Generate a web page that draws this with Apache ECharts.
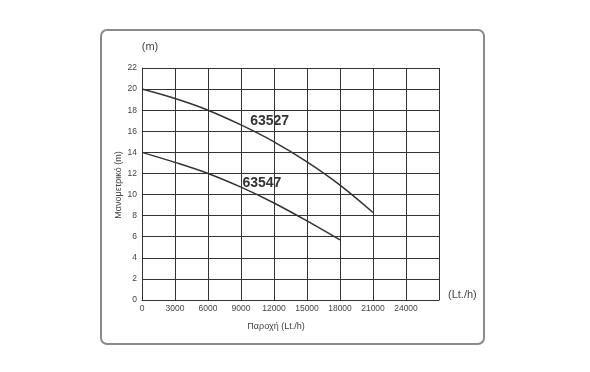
<!DOCTYPE html>
<html><head><meta charset="utf-8">
<script src="https://cdn.jsdelivr.net/npm/echarts@6/dist/echarts.min.js"></script>
<style>html,body{margin:0;padding:0;background:#fff}#c{width:590px;height:372px}</style>
</head><body><div id="c"></div>
<script>
const flowTicks = [0,3000,6000,9000,12000,15000,18000,21000,24000];
const headTicks = [0,2,4,6,8,10,12,14,16,18,20,22];
const flow63527 = [0,3000,6000,9000,12000,15000,18000,21000];
const head63527 = [20,19.1,18.0,16.6,15.0,13.1,10.9,8.3];
const flow63547 = [0,3000,6000,9000,12000,15000,18000];
const head63547 = [14,13.05,12.0,10.7,9.2,7.5,5.7];
const seriesNames = ['63527','63547'];
const labelPos = [[11600,17.0],[10900,11.1]];

const chart = echarts.init(document.getElementById('c'));
const font = 'Liberation Sans, Arial, sans-serif';
chart.setOption({
  animation:false,
  grid:{left:142,top:68,width:297,height:232,containLabel:false},
  xAxis:{type:'value',min:0,max:27000,interval:3000,
    name:'(Lt./h)',nameLocation:'end',nameGap:9,
    nameTextStyle:{color:'#444',fontSize:11,fontFamily:font,verticalAlign:'bottom',padding:[0,0,0,0]},
    axisLine:{show:true,lineStyle:{color:'#333',width:1}},
    axisTick:{show:false},
    splitLine:{show:true,lineStyle:{color:'#333',width:1}},
    axisLabel:{color:'#444',fontSize:8.5,fontFamily:font,margin:4,
      formatter:v=>flowTicks.includes(v)?String(v):''}},
  yAxis:{type:'value',min:0,max:22,interval:2,
    name:'(m)',nameLocation:'end',nameGap:16,
    nameTextStyle:{color:'#444',fontSize:11,fontFamily:font,align:'center',padding:[0,0,0,16]},
    axisLine:{show:true,lineStyle:{color:'#333',width:1}},
    axisTick:{show:false},
    splitLine:{show:true,lineStyle:{color:'#333',width:1}},
    axisLabel:{color:'#444',fontSize:8.5,fontFamily:font,margin:5,
      formatter:v=>headTicks.includes(v)?String(v):''}},
  graphic:[
    {type:'rect',shape:{x:101,y:30,width:383,height:314,r:6},
     style:{fill:'none',stroke:'#8a8a8a',lineWidth:2},z:-1},
    {type:'text',x:119,y:185,rotation:Math.PI/2,
     style:{text:'Μανομετρικό (m)',fill:'#444',font:'9px '+font,align:'center',verticalAlign:'middle'}},
    {type:'text',x:276,y:327,
     style:{text:'Παροχή (Lt./h)',fill:'#444',font:'9px '+font,align:'center',verticalAlign:'middle'}}
  ],
  series:[
    {name:seriesNames[0],type:'line',smooth:0.35,symbol:'none',
     data:flow63527.map((f,i)=>[f,head63527[i]]),
     lineStyle:{color:'#333',width:1.5},
     markPoint:{symbolSize:0,data:[{coord:labelPos[0],value:seriesNames[0]}],
       label:{show:true,formatter:seriesNames[0],color:'#333',fontSize:14,fontWeight:'bold',fontFamily:font}}},
    {name:seriesNames[1],type:'line',smooth:0.35,symbol:'none',
     data:flow63547.map((f,i)=>[f,head63547[i]]),
     lineStyle:{color:'#333',width:1.5},
     markPoint:{symbolSize:0,data:[{coord:labelPos[1],value:seriesNames[1]}],
       label:{show:true,formatter:seriesNames[1],color:'#333',fontSize:14,fontWeight:'bold',fontFamily:font}}}
  ]
});
</script></body></html>
